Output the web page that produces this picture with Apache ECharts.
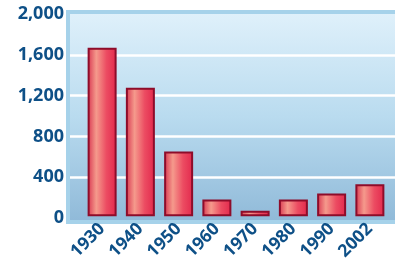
<!DOCTYPE html>
<html>
<head>
<meta charset="utf-8">
<script src="https://cdn.jsdelivr.net/npm/echarts@6/dist/echarts.min.js"></script>
<style>
  html, body { margin: 0; padding: 0; background: #fff; }
  #chart { width: 395px; height: 263px; }
</style>
</head>
<body>
<div id="chart"></div>
<script>
// years and values
var years = ['1930', '1940', '1950', '1960', '1970', '1980', '1990', '2002'];
var values = [1665, 1270, 640, 165, 55, 165, 225, 315];
var yTicks = [0, 400, 800, 1200, 1600, 2000];

var labelBlue = '#0e5087';

var chart = echarts.init(document.getElementById('chart'));

var barFill = new echarts.graphic.LinearGradient(0, 0, 1, 0, [
    { offset: 0, color: '#d83550' },
    { offset: 0.3, color: '#f59a8c' },
    { offset: 0.65, color: '#ec4c62' },
    { offset: 1, color: '#e2284c' }
]);

var option = {
    animation: false,
    graphic: [{
        type: 'rect',
        z: -10,
        shape: { x: 68, y: 12, width: 330, height: 210 },
        style: {
            fill: new echarts.graphic.LinearGradient(0, 0, 0, 1, [
                { offset: 0, color: '#e0f1fb' },
                { offset: 0.5, color: '#b9dbef' },
                { offset: 1, color: '#8fb9d8' }
            ]),
            stroke: '#a6d2ea',
            lineWidth: 4
        }
    }],
    grid: [
        { left: 70, right: 0, top: 14, bottom: 45 },
        { left: 83, right: 6, top: 14, bottom: 45 }
    ],
    xAxis: [
        { gridIndex: 0, type: 'value', show: false, min: 0, max: 1 },
        {
            gridIndex: 1,
            type: 'category',
            data: years,
            axisLine: { show: false },
            axisTick: { show: false },
            axisLabel: {
                rotate: 45,
                margin: 10,
                color: labelBlue,
                fontFamily: 'Open Sans',
                fontWeight: 'bold',
                fontSize: 17.5
            }
        }
    ],
    yAxis: [
        {
            gridIndex: 0,
            type: 'value',
            min: yTicks[0],
            max: yTicks[yTicks.length - 1],
            interval: 400,
            axisLine: { show: false },
            axisTick: { show: false },
            axisLabel: {
                margin: 6,
                color: labelBlue,
                fontFamily: 'Open Sans',
                fontWeight: 'bold',
                fontSize: 18,
                formatter: function (v) { return v.toLocaleString('en-US'); }
            },
            splitLine: {
                lineStyle: {
                    color: ['rgba(0,0,0,0)', '#ffffff', '#ffffff', '#ffffff', '#ffffff', 'rgba(0,0,0,0)'],
                    width: 2.5
                }
            }
        },
        {
            gridIndex: 1,
            type: 'value',
            min: 0,
            max: 2000,
            interval: 400,
            show: false,
            splitLine: { show: false }
        }
    ],
    series: [{
        type: 'bar',
        xAxisIndex: 1,
        yAxisIndex: 1,
        data: values,
        barWidth: 29,
        itemStyle: {
            color: barFill,
            borderColor: '#8e0c2a',
            borderWidth: 2
        }
    }]
};

chart.setOption(option);
</script>
</body>
</html>
